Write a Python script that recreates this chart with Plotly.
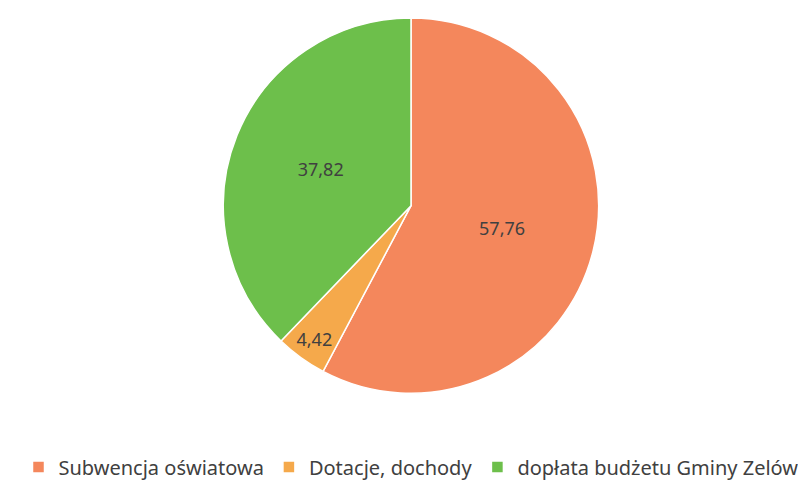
import plotly.graph_objects as go

categories = ["Subwencja oświatowa", "Dotacje, dochody", "dopłata budżetu Gminy Zelów"]
values = [57.76, 4.42, 37.82]
value_labels = ["57,76", "4,42", "37,82"]
colors = ["#F4875C", "#F5A94B", "#6DBF4B"]

fig = go.Figure(go.Pie(
    labels=categories,
    values=values,
    text=value_labels,
    texttemplate="%{text}",
    textposition="inside",
    insidetextorientation="horizontal",
    sort=False,
    direction="clockwise",
    rotation=0,
    marker=dict(colors=colors, line=dict(color="#FFFFFF", width=1.5)),
    textfont=dict(family="Noto Sans", size=18, color="#404040"),
    domain=dict(x=[0, 1], y=[0.1, 1.0]),
    hoverinfo="label+value",
))

fig.update_layout(
    width=806, height=484,
    paper_bgcolor="white", plot_bgcolor="white",
    margin=dict(l=5, r=5, t=10, b=40),
    showlegend=True,
    legend=dict(
        orientation="h", x=0.5, xanchor="center", y=-0.03, yanchor="top",
        font=dict(family="Noto Sans", size=20, color="#404040"),
        itemwidth=30, traceorder="normal",
    ),
)

fig.write_html("out.html")
